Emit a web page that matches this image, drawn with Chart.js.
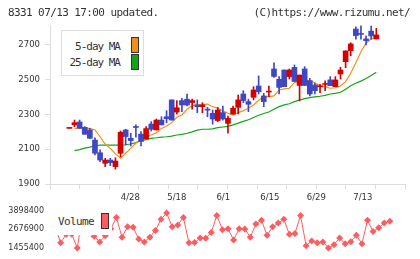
<!DOCTYPE html>
<html>
<head>
<meta charset="utf-8">
<script src="https://cdn.jsdelivr.net/npm/chart.js@4.4.0/dist/chart.umd.min.js"></script>
<style>
body { margin:0; background:#fff; width:420px; height:259px; position:relative; overflow:hidden;
       font-family:"DejaVu Sans Mono", monospace; color:#333; }
#main { position:absolute; left:0; top:0; }
#vol { position:absolute; left:0; top:200px; }
.txt { position:absolute; font-size:11px; letter-spacing:-0.6px; white-space:nowrap; line-height:12px; }
.box { position:absolute; width:6px; height:14px; border:1px solid #333; }
#leg { position:absolute; left:61px; top:30px; width:81px; height:44px; border:1px solid #ddd; background:#fff; }
#vleg { position:absolute; left:52px; top:204px; width:60px; height:31px; background:#fff; }
</style>
</head>
<body>
<canvas id="main" width="420" height="205"></canvas>
<canvas id="vol" width="420" height="59"></canvas>

<div class="txt" style="left:8px;top:7px">8331 07/13 17:00 updated.</div>
<div class="txt" style="right:10px;top:7px">(C)https://www.rizumu.net/</div>

<div id="leg"></div>
<div class="txt" style="right:300px;top:41px;letter-spacing:-1px">5-day MA</div>
<div class="box" style="left:131px;top:37px;background:#f0901a"></div>
<div class="txt" style="right:300px;top:57px;letter-spacing:-1px">25-day MA</div>
<div class="box" style="left:131px;top:54px;background:#14a514"></div>

<div id="vleg"></div>
<div class="txt" style="left:58px;top:216px">Volume</div>
<div class="box" style="left:101px;top:213px;background:#ff5c61"></div>

<script>
// tick labels
let xLabels = ['4/28', '5/18', '6/1', '6/15', '6/29', '7/13']
let xLabelPos = [10, 20, 30, 40, 50, 60]
let yTicks = [1900, 2100, 2300, 2500, 2700]
let volTicks = [1455400, 2676900, 3898400]

// daily prices
let open  = [2220,2240,2257,2226,2211,2153,2080,2019,2038,2000,2077,2211,2163,2227,2187,2159,2245,2211,2268,2287,
             2384,2314,2380,2388,2369,2355,2345,2327,2307,2265,2311,2249,2303,2341,2418,2374,2399,2464,2407,2429,
             2562,2503,2556,2518,2571,2467,2562,2495,2470,2459,2473,2499,2460,2533,2604,2667,2792,2763,2735,2780,2735]
let high  = [2220,2268,2268,2230,2221,2166,2096,2048,2048,2051,2205,2215,2192,2240,2201,2230,2259,2274,2287,2322,
             2384,2380,2393,2418,2389,2384,2368,2341,2326,2341,2349,2291,2349,2412,2437,2388,2460,2522,2422,2464,
             2598,2518,2556,2562,2585,2527,2575,2508,2480,2474,2493,2518,2518,2572,2666,2713,2805,2810,2752,2809,2796]
let low   = [2220,2230,2221,2186,2163,2067,2028,2000,2005,1985,2057,2124,2119,2169,2119,2159,2205,2211,2240,2253,
             2268,2303,2316,2349,2330,2310,2310,2287,2244,2259,2268,2192,2302,2303,2368,2316,2384,2418,2345,2403,
             2514,2418,2460,2504,2490,2378,2467,2407,2418,2426,2437,2466,2460,2504,2569,2638,2733,2733,2700,2733,2735]
let close = [2220,2253,2221,2186,2163,2077,2038,2038,2023,2032,2198,2173,2150,2225,2145,2219,2215,2268,2240,2276,
             2268,2339,2355,2355,2380,2345,2355,2325,2274,2326,2274,2278,2336,2384,2380,2359,2441,2431,2374,2433,
             2519,2456,2460,2556,2490,2527,2467,2418,2437,2461,2475,2466,2499,2556,2666,2706,2754,2761,2725,2752,2758]

let ma5  = [null,2220,2220,2220,2220,2211,2172,2130,2105,2073,2048,2077,2105,2134,2153,2176,2182,2195,2220,2234,
            2253,2284,2297,2330,2351,2355,2357,2360,2345,2336,2322,2307,2297,2311,2322,2336,2355,2382,2403,2403,
            2407,2441,2447,2451,2483,2493,2497,2493,2483,2466,2460,2451,2454,2464,2489,2537,2598,2661,2710,2735,2744]
let ma25 = [null,2092,2098,2106,2112,2120,2124,2124,2124,2124,2124,2126,2130,2138,2149,2155,2163,2166,2170,2172,
            2176,2182,2186,2192,2200,2210,2215,2215,2217,2224,2228,2232,2240,2250,2260,2270,2283,2296,2306,2314,
            2330,2345,2355,2362,2374,2383,2391,2397,2401,2405,2410,2418,2422,2428,2445,2466,2480,2492,2507,2525,2543]

let volume = [2900000,1795600,2352200,2352200,1455400,3898400,2847000,2228500,1857400,2260000,
              2723300,3465500,2166700,2847000,2820000,2043000,1857400,2166700,2599600,3341800,
              3750000,2847000,2970700,3465500,1795600,1810000,2104800,2090000,2475900,3589200,
              2661500,2723300,1981100,2723300,2710000,2166700,3032600,3280000,2290400,2847000,
              3094400,3341800,2352200,2414100,3589200,1610000,1919300,1795600,1857400,1455400,
              1671900,2104800,1733700,1870000,2290400,1733700,3280000,2537800,2785200,3094400,3218100]

let upColor = '#d40000'
let downColor = '#3f47c2'
let xMin = -0.9
let xMax = 62.72

function candleColor(ctx) {
    let i = ctx.dataIndex
    if (i === undefined) return downColor
    return close[i] >= open[i] ? upColor : downColor
}

let bodyData = open.map((o, i) => ({x: i, y: [o, close[i]]}))
let wickData = low.map((l, i) => ({x: i, y: [l, high[i]]}))
let ma5Data = ma5.map((v, i) => ({x: i, y: v}))
let ma25Data = ma25.map((v, i) => ({x: i, y: v}))
let volData = volume.map((v, i) => ({x: i, y: v}))

let axisFont = {family: 'DejaVu Sans', size: 8.5}

new Chart(document.getElementById('main').getContext('2d'), {
    type: 'bar',
    data: {
        datasets: [
            {type: 'line', data: ma25Data, borderColor: '#14a514', borderWidth: 1.2, pointRadius: 0, order: 3},
            {type: 'line', data: ma5Data, borderColor: '#f0901a', borderWidth: 1.2, pointRadius: 0, order: 2},
            {data: wickData, barThickness: 1, grouped: false, backgroundColor: candleColor, order: 1},
            {data: bodyData, barThickness: 5, grouped: false, minBarLength: 1, backgroundColor: candleColor, order: 0},
        ],
    },
    options: {
        responsive: false,
        animation: false,
        layout: {padding: {top: 25, right: 15, left: 0, bottom: 0}},
        plugins: {legend: {display: false}, tooltip: {enabled: false}},
        scales: {
            x: {
                type: 'linear', position: 'bottom', min: xMin, max: xMax,
                afterBuildTicks: ax => {
                    ax.ticks = []
                    for (let k = 0; k <= 11; k++) ax.ticks.push({value: xMin + k * (xMax - xMin) / 11})
                },
                afterFit: ax => { ax.height = 5 },
                ticks: {display: false},
                grid: {drawOnChartArea: false, tickLength: 5, color: '#ddd'},
                border: {color: '#ddd'},
            },
            xl: {
                type: 'linear', position: 'bottom', min: xMin, max: xMax,
                afterBuildTicks: ax => { ax.ticks = xLabelPos.map(v => ({value: v})) },
                afterFit: ax => { ax.height = 16 },
                ticks: {autoSkip: false, maxRotation: 0, padding: 4, font: axisFont, color: '#333',
                        callback: (v, i) => xLabels[i]},
                grid: {display: false, drawTicks: false},
                border: {display: false},
            },
            y: {
                min: 1900, max: 2815,
                afterBuildTicks: ax => { ax.ticks = yTicks.map(v => ({value: v})) },
                afterFit: ax => { ax.width = 50 },
                ticks: {padding: 5, font: axisFont, color: '#333', callback: v => String(v)},
                grid: {drawOnChartArea: false, tickLength: 5, color: '#ddd'},
                border: {color: '#ddd'},
            },
        },
    },
})

new Chart(document.getElementById('vol').getContext('2d'), {
    type: 'line',
    data: {
        datasets: [{
            data: volData,
            borderColor: '#ff5c61',
            borderWidth: 1,
            pointStyle: 'rectRot',
            pointRadius: 3.5,
            pointBackgroundColor: '#ff5c61',
            pointBorderWidth: 0,
            clip: false,
        }],
    },
    options: {
        responsive: false,
        animation: false,
        layout: {padding: {top: 9, right: 15, left: 0, bottom: 11}},
        plugins: {legend: {display: false}, tooltip: {enabled: false}},
        scales: {
            x: {type: 'linear', min: xMin, max: xMax, display: false},
            y: {
                min: volTicks[0], max: volTicks[2],
                afterBuildTicks: ax => { ax.ticks = volTicks.map(v => ({value: v})) },
                afterFit: ax => { ax.width = 50 },
                ticks: {padding: 6, font: {family: 'DejaVu Sans', size: 8}, color: '#333', callback: v => String(v)},
                grid: {display: false, drawTicks: false},
                border: {display: false},
            },
        },
    },
})
</script>
</body>
</html>
